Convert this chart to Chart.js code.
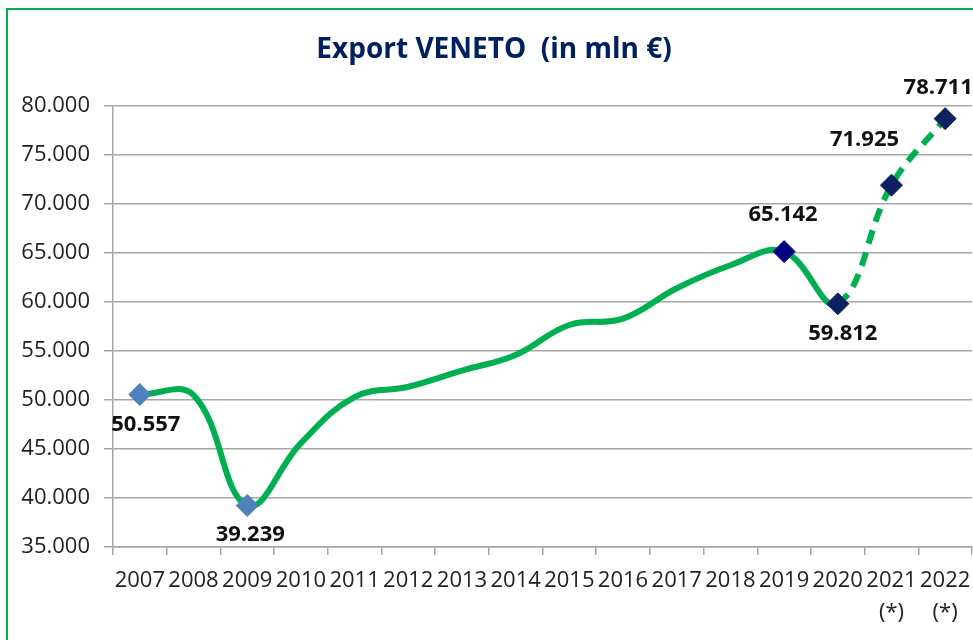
<!DOCTYPE html>
<html>
<head>
<meta charset="utf-8">
<script src="https://cdn.jsdelivr.net/npm/chart.js@4"></script>
<style>
  html, body { margin: 0; padding: 0; background: #fff; overflow: hidden; }
  #wrap { position: relative; width: 973px; height: 640px; overflow: hidden; }
  #chart { position: absolute; left: 0; top: 0; }
  #frame {
    position: absolute; left: 6px; top: 8px; width: 1000px; height: 700px;
    border: 2px solid #00B050; pointer-events: none;
  }
</style>
</head>
<body>
<div id="wrap">
  <canvas id="chart" width="984" height="640"></canvas>
  <div id="frame"></div>
</div>
<script>
// Data
const years = ['2007', '2008', '2009', '2010', '2011', '2012', '2013', '2014',
  '2015', '2016', '2017', '2018', '2019', '2020', ['2021', '(*)'], ['2022', '(*)']];
const exportValues = [50557, 50500, 39239, 45600, 50300, 51350, 53000, 54600,
  57650, 58300, 61400, 63750, 65142, 59812, 71925, 78711];
const yTicks = [35000, 40000, 45000, 50000, 55000, 60000, 65000, 70000, 75000, 80000];
// points with a marker and a value label
const labelledPoints = [0, 2, 12, 13, 14, 15];
const firstForecast = 13; // dashed from 2020 on

// styling
const markerColors = { 0: '#4F81BD', 2: '#4F81BD', 12: '#000080', 13: '#0D2160', 14: '#0D2160', 15: '#0D2160' };
const labelShift = [[6, 30], [3, 29], [-1, -37], [5, 30], [-27, -45], [-7, -31]];

function fmt(v) {
  return String(Math.round(v)).replace(/\B(?=(\d{3})+(?!\d))/g, '.');
}

const valueLabels = {
  id: 'valueLabels',
  afterDatasetsDraw(chart) {
    const c = chart.ctx;
    const meta = chart.getDatasetMeta(0);
    c.save();
    c.font = 'bold 22px "Open Sans"';
    c.fillStyle = '#111';
    c.textAlign = 'center';
    c.textBaseline = 'middle';
    labelledPoints.forEach((i, k) => {
      const p = meta.data[i];
      c.fillText(fmt(exportValues[i]), p.x + labelShift[k][0], p.y + labelShift[k][1]);
    });
    c.restore();
  }
};

const chartTitle = {
  id: 'chartTitle',
  afterDraw(chart) {
    const c = chart.ctx;
    c.save();
    c.font = 'bold 28px "Open Sans"';
    c.fillStyle = '#002060';
    c.textAlign = 'center';
    c.textBaseline = 'middle';
    c.fillText('Export VENETO  (in mln €)', 494, 50);
    c.restore();
  }
};

const ctx = document.getElementById('chart').getContext('2d');
new Chart(ctx, {
  type: 'line',
  data: {
    labels: years,
    datasets: [{
      data: exportValues,
      borderColor: '#00B050',
      borderWidth: 6,
      tension: 0.4,
      fill: false,
      pointStyle: 'rectRot',
      pointRadius: exportValues.map((v, i) => labelledPoints.includes(i) ? 11 : 0),
      pointHoverRadius: 0,
      pointBackgroundColor: exportValues.map((v, i) => markerColors[i] || '#00B050'),
      pointBorderColor: exportValues.map((v, i) => markerColors[i] || '#00B050'),
      pointBorderWidth: 1,
      segment: {
        borderDash: s => s.p0DataIndex >= firstForecast ? [14, 9] : undefined
      }
    }]
  },
  options: {
    responsive: false,
    animation: false,
    layout: { padding: { top: 106, right: 2, left: 0, bottom: 0 } },
    plugins: {
      legend: { display: false },
      title: { display: false },
      tooltip: { enabled: false }
    },
    scales: {
      x: {
        offset: true,
        grid: {
          offset: true,
          drawOnChartArea: false,
          drawTicks: true,
          tickLength: 8,
          color: '#A6A6A6',
          lineWidth: 1.5
        },
        border: { display: true, color: '#A6A6A6', width: 1.5 },
        ticks: {
          autoSkip: false,
          maxRotation: 0,
          padding: 10,
          color: '#222',
          font: { family: 'Open Sans', size: 22, lineHeight: 1.45 }
        },
        afterFit: s => { s.height = 93; }
      },
      y: {
        min: 35000,
        max: 80000,
        afterBuildTicks: s => { s.ticks = yTicks.map(v => ({ value: v })); },
        grid: {
          color: '#A6A6A6',
          lineWidth: 1.5,
          tickLength: 9
        },
        border: { display: true, color: '#A6A6A6', width: 1.5 },
        ticks: {
          padding: 14,
          color: '#222',
          font: { family: 'Open Sans', size: 22 },
          callback: v => fmt(v)
        },
        afterFit: s => { s.width = 113; }
      }
    }
  },
  plugins: [valueLabels, chartTitle]
});
</script>
</body>
</html>
